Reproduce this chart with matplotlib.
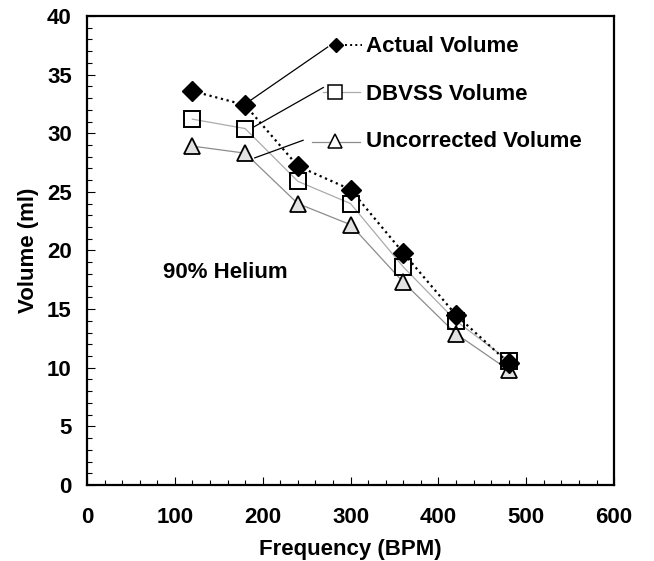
import numpy as np
import matplotlib.pyplot as plt
from matplotlib.ticker import MultipleLocator

freq = [120, 180, 240, 300, 360, 420, 480]
actual = [33.6, 32.4, 27.2, 25.2, 19.8, 14.5, 10.4]
dbvss = [31.2, 30.4, 25.9, 24.0, 18.6, 14.0, 10.6]
uncorrected = [28.9, 28.3, 24.0, 22.2, 17.3, 12.9, 9.8]

plt.rcParams['font.family'] = ['Liberation Sans', 'DejaVu Sans']
plt.rcParams['font.weight'] = 'bold'

fig = plt.figure(figsize=(6.54, 5.61), dpi=100)
ax = fig.add_axes([0.133, 0.1355, 0.806, 0.836])

ax.plot(freq, uncorrected, '-', color='#8c8c8c', lw=0.9, zorder=2)
ax.plot(freq, dbvss, '-', color='#ababab', lw=0.9, zorder=2)
ax.plot(freq, actual, ':', color='black', lw=1.6, zorder=2)

tri = dict(marker='^', ms=12, mfc='#e2e2e2', mec='black', mew=1.3, ls='none')
sq = dict(marker='s', ms=11.5, mfc='none', mec='black', mew=1.4, ls='none')
dia = dict(marker='D', ms=10, mfc='black', mec='black', ls='none')
ax.plot(freq, uncorrected, zorder=3, **tri)
ax.plot(freq, dbvss, zorder=4, **sq)
ax.plot(freq, actual, zorder=5, **dia)

# hand-drawn key with leader lines to the 180 BPM points
ax.plot([274, 186], [37.35, 32.8], color='black', lw=0.9)
ax.plot([269, 189], [33.9, 30.5], color='black', lw=0.9)
ax.plot([246, 191], [29.4, 27.9], color='black', lw=0.9)

ax.plot([294, 313], [37.5, 37.5], ':', color='black', lw=1.4)
ax.plot([269, 311], [33.5, 33.5], '-', color='#ababab', lw=0.9)
ax.plot([256, 311], [29.25, 29.25], '-', color='#8c8c8c', lw=0.9)
ax.plot([283.5], [37.5], **dict(dia, ms=7.5))
ax.plot([282.5], [33.5], **dict(sq, mfc='white', ms=9.5, mew=1.1))
ax.plot([282.5], [29.3], **dict(tri, mfc='white', ms=10, mew=1.1))

kw = dict(fontsize=16, fontweight='bold', va='center', ha='left')
ax.text(318, 37.4, 'Actual Volume', **kw)
ax.text(318, 33.3, 'DBVSS Volume', **kw)
ax.text(318, 29.3, 'Uncorrected Volume', **kw)
ax.text(86, 18.1, '90% Helium', **kw)

ax.set_xlim(0, 600)
ax.set_ylim(0, 40)
ax.xaxis.set_major_locator(MultipleLocator(100))
ax.xaxis.set_minor_locator(MultipleLocator(20))
ax.yaxis.set_major_locator(MultipleLocator(5))
ax.yaxis.set_minor_locator(MultipleLocator(1))
ax.tick_params(which='both', direction='in', width=0.8, labelsize=16)
ax.tick_params(axis='x', pad=16)
ax.tick_params(axis='y', pad=11)
ax.tick_params(which='major', length=6)
ax.tick_params(which='minor', length=3.5)
for s in ax.spines.values():
    s.set_linewidth(1.6)

ax.set_xlabel('Frequency (BPM)', fontsize=16, fontweight='bold', labelpad=8)
ax.set_ylabel('Volume (ml)', fontsize=16, fontweight='bold', labelpad=6)

fig.savefig('out.png', dpi=100)
